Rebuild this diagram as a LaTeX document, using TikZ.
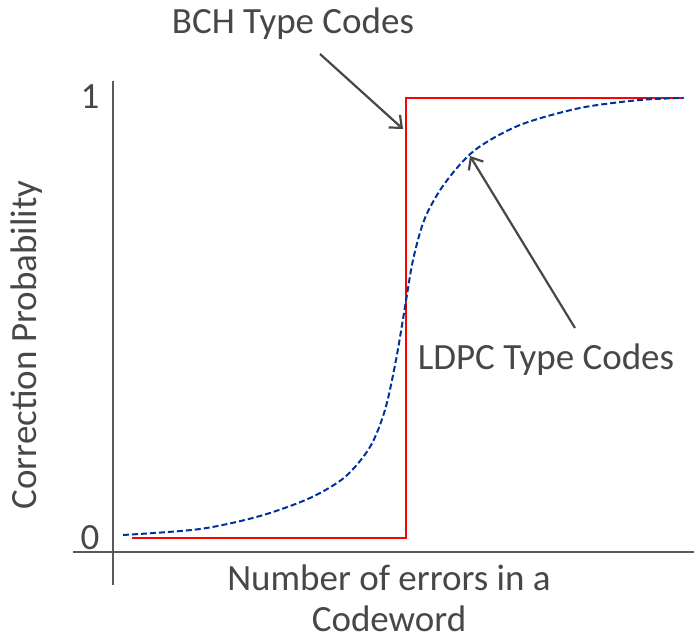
\documentclass[tikz,border=0pt]{standalone}
\usepackage{fontspec}
\setmainfont{Carlito}
\usepackage{tikz}
\usetikzlibrary{arrows.meta}
\definecolor{axisgray}{HTML}{595959}
\definecolor{textgray}{HTML}{474747}
\definecolor{bchred}{HTML}{FF0000}
\definecolor{ldpcblue}{HTML}{003399}
\tikzset{
  lbl/.style={text=textgray, font=\fontsize{37}{41}\selectfont, inner sep=0pt, align=center},
  pointer/.style={draw=textgray, line width=2.2pt, -{Straight Barb[length=10pt, width=17pt, line width=2.2pt]}},
}

\begin{document}
\begin{tikzpicture}[x=1pt, y=-1pt]
\useasboundingbox (0,0) rectangle (694,639);
\draw[color=axisgray, line width=2pt] (73,552) -- (694,552);
\draw[color=axisgray, line width=2pt] (113,81) -- (113,585);
\node[lbl] (one) at (90,97) {1};
\node[lbl] (zero) at (90,538) {0};
\node[lbl, rotate=90] (ylabel) at (27,345) {Correction Probability};
\node[lbl] (xlabel) at (389,598) {Number of errors in a\\Codeword};
\draw[color=bchred, line width=2pt] (132,538) -- (406,538) -- (406,98) -- (684,98);
\draw[color=ldpcblue, line width=2pt, dash pattern=on 6pt off 3pt] plot[smooth] coordinates {
(123,535) (200,529) (260,516) (310,498) (345,477) (370,447) (385,410) (396,360)
(405,307) (413,260) (425,218) (445,183) (475,150) (520,125) (580,108) (640,100) (683,98)};
\node[lbl] (bch) at (293,24) {BCH Type Codes};
\node[lbl] (ldpc) at (546,360) {LDPC Type Codes};
\coordinate (bchfrom) at (320,54);
\coordinate (bchtip) at (403,129);
\coordinate (ldpcfrom) at (575,328);
\coordinate (ldpctip) at (470,156);
\draw[pointer] (bchfrom) -- (bchtip);
\draw[pointer] (ldpcfrom) -- (ldpctip);
\end{tikzpicture}
\end{document}
